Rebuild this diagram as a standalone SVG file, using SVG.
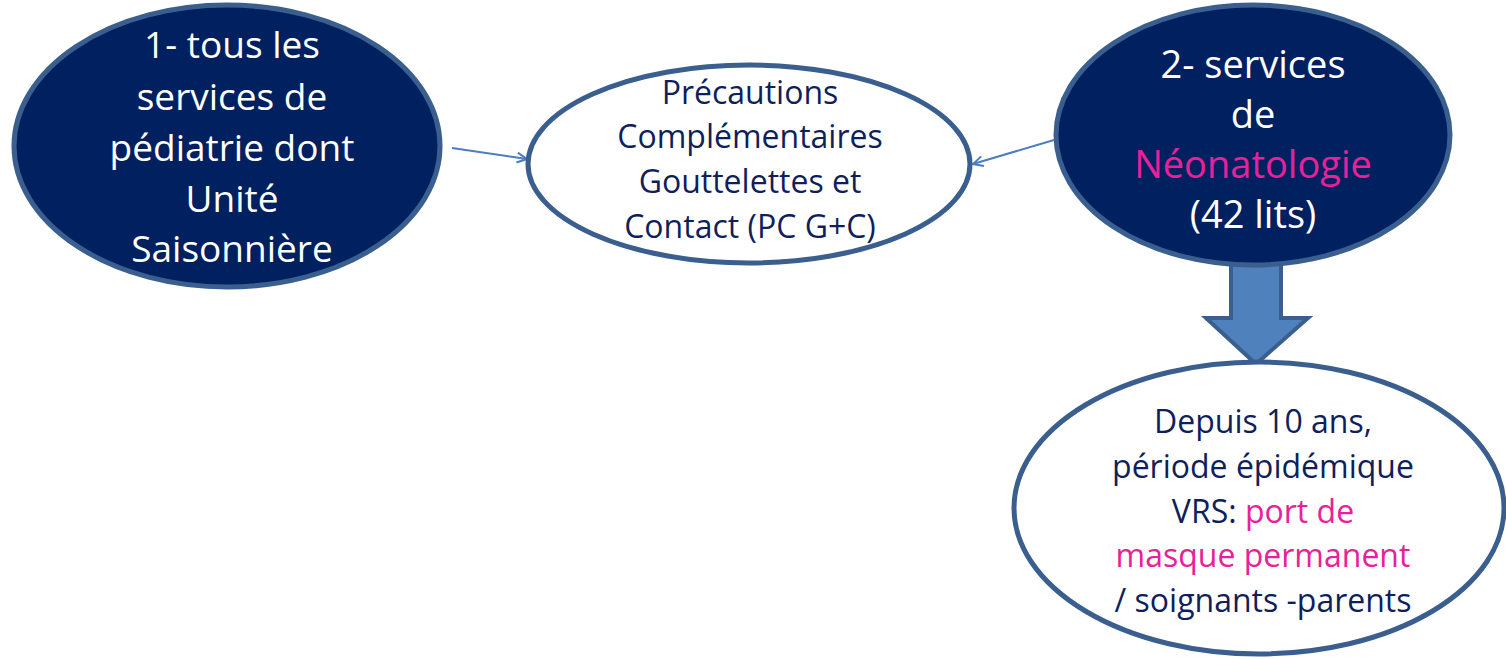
<svg xmlns="http://www.w3.org/2000/svg" width="1506" height="659" viewBox="0 0 1506 659">
<defs>
<style>
.dark{fill:#002060;stroke:#3A5F8F;stroke-width:5}
.light{fill:#ffffff;stroke:#3A5F8F;stroke-width:5}
.t{font-family:"Open Sans","Liberation Sans",sans-serif;text-anchor:middle}
.w{fill:#ffffff;font-size:38px}
.w1{font-size:37px}
.n{fill:#0F1F5C;font-size:32px}
.p{fill:#E8219A}
.conn{stroke:#4A7EC0;stroke-width:2;fill:none}
</style>
<marker id="open" viewBox="0 0 12 12" refX="11" refY="6" markerWidth="12" markerHeight="12" markerUnits="userSpaceOnUse" orient="auto">
<path d="M1,1 L11,6 L1,11" fill="none" stroke="#4A7EC0" stroke-width="2"/>
</marker>
</defs>
<g id="connectors">
<line class="conn" x1="452" y1="148" x2="527" y2="159" marker-end="url(#open)"/>
<line class="conn" x1="1054" y1="140" x2="973" y2="164" marker-end="url(#open)"/>
<path id="blockArrow" d="M1231,262 L1281,262 L1281,318 L1308,318 L1256,364 L1206,318 L1231,318 Z" fill="#4F81BD" stroke="#3A5F8F" stroke-width="4" stroke-linejoin="miter"/>
</g>
<g id="node1">
<ellipse class="dark" cx="227" cy="146" rx="213" ry="141"/>
<text class="t w w1"><tspan x="232" y="58">1- tous les</tspan><tspan x="232" y="110">services de</tspan><tspan x="232" y="161">pédiatrie dont</tspan><tspan x="232" y="212">Unité</tspan><tspan x="232" y="262">Saisonnière</tspan></text>
</g>
<g id="node2">
<ellipse class="light" cx="749" cy="164" rx="221" ry="99"/>
<text class="t n"><tspan x="750" y="104">Précautions</tspan><tspan x="750" y="148">Complémentaires</tspan><tspan x="750" y="193">Gouttelettes et</tspan><tspan x="750" y="238">Contact (PC G+C)</tspan></text>
</g>
<g id="node3">
<ellipse class="dark" cx="1253" cy="135" rx="197" ry="130"/>
<text class="t w"><tspan x="1253" y="78">2- services</tspan><tspan x="1253" y="128">de</tspan><tspan class="p" x="1253" y="178">Néonatologie</tspan><tspan x="1253" y="228">(42 lits)</tspan></text>
</g>
<g id="node4">
<ellipse class="light" cx="1259" cy="508" rx="245" ry="146"/>
<text class="t n"><tspan x="1263" y="433">Depuis 10 ans,</tspan><tspan x="1263" y="478">période épidémique</tspan><tspan x="1263" y="523">VRS: </tspan><tspan class="p">port de</tspan><tspan class="p" x="1263" y="567">masque permanent</tspan><tspan x="1263" y="612">/ soignants -parents</tspan></text>
</g>
</svg>
